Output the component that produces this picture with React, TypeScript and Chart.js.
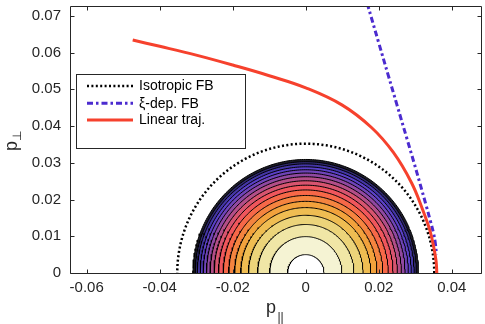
import React, { useEffect, useRef } from 'react';
import { Chart, registerables } from 'chart.js';

Chart.register(...registerables);

// ---- data ----
const ringRadii = [0.0050, 0.0099, 0.0132, 0.0157, 0.0178, 0.0195, 0.0211, 0.0226, 0.0239, 0.0251, 0.0262, 0.0272, 0.0281, 0.0289, 0.0297, 0.0303, 0.0309];
const ringColors = ['#ffffff', '#f5f3d3', '#f0e6a6', '#ecd47a', '#efbd52', '#f2a23c', '#f5843f', '#f76848', '#f0565c', '#d7546f', '#b34e88', '#9048a1', '#6f44b9', '#5a40c8', '#4436a6', '#302a70', '#1d1d2a'];
const isoRadius = 0.0352;

const linearX = [-0.0474, -0.040, -0.030, -0.020, -0.010, 0.000, 0.010, 0.018, 0.024, 0.029, 0.032, 0.034, 0.0351, 0.0357, 0.0359];
const linearY = [0.0634, 0.0617, 0.0593, 0.0566, 0.0537, 0.0504, 0.0457, 0.0396, 0.0328, 0.0245, 0.0173, 0.0116, 0.0068, 0.0032, 0.0];

const xiX = [0.0168, 0.0200, 0.0226, 0.0250, 0.0277, 0.0296, 0.0313, 0.0330, 0.0341, 0.0350, 0.0355, 0.0358];
const xiY = [0.0735, 0.0626, 0.0538, 0.0457, 0.0366, 0.0302, 0.0243, 0.0183, 0.0143, 0.0108, 0.0080, 0.0050];

const legendLabels = ['Isotropic FB', 'ξ-dep. FB', 'Linear traj.'];

const xMin = -0.0643;
const xMax = 0.0480;
const yMin = 0;
const yMax = 0.0724;
const xStep = 0.02;
const yStep = 0.01;

const FONT = "'Liberation Sans', Arial, Helvetica, sans-serif";
const AXIS_COLOR = '#262626';

function halfCircle(r: number, n = 160) {
  const pts: { x: number; y: number }[] = [];
  for (let i = 0; i <= n; i++) {
    const t = (Math.PI * i) / n;
    pts.push({ x: r * Math.cos(t), y: r * Math.sin(t) });
  }
  return pts;
}

function zip(xs: number[], ys: number[]) {
  return xs.map((x, i) => ({ x, y: ys[i] }));
}

const fmt = (v: number) => String(Math.round(v * 1000) / 1000);

const framePlugin = {
  id: 'frame',
  afterDraw(chart: any) {
    const { ctx, chartArea: a, scales } = chart;
    const xs = scales.x;
    const ys = scales.y;
    ctx.save();

    // legend
    const lx0 = 76.5, ly0 = 74.5, lx1 = 245.5, ly1 = 148.5;
    ctx.fillStyle = '#ffffff';
    ctx.fillRect(lx0, ly0, lx1 - lx0, ly1 - ly0);
    ctx.strokeStyle = AXIS_COLOR;
    ctx.lineWidth = 1;
    ctx.setLineDash([]);
    ctx.strokeRect(lx0, ly0, lx1 - lx0, ly1 - ly0);
    const rows = [86, 103.3, 120];
    legendLabels.forEach((label, i) => {
      const ds = chart.data.datasets[i];
      ctx.save();
      ctx.strokeStyle = ds.borderColor;
      ctx.lineWidth = ds.borderWidth;
      ctx.setLineDash(ds.borderDash || []);
      ctx.beginPath();
      ctx.moveTo(87, rows[i]);
      ctx.lineTo(133, rows[i]);
      ctx.stroke();
      ctx.restore();
      ctx.fillStyle = '#000000';
      ctx.font = `14px ${FONT}`;
      ctx.textBaseline = 'middle';
      ctx.textAlign = 'left';
      ctx.fillText(label, 139, rows[i] + 0.5);
    });

    // frame box
    ctx.strokeStyle = AXIS_COLOR;
    ctx.lineWidth = 1;
    ctx.setLineDash([]);
    const L = a.left - 0.5, R = a.right + 0.5, T = a.top - 0.5, B = a.bottom + 0.5;
    ctx.beginPath();
    ctx.rect(L, T, R - L, B - T);
    // ticks, inward on all four sides
    xs.ticks.forEach((t: any) => {
      const px = Math.round(xs.getPixelForValue(t.value)) + 0.5;
      ctx.moveTo(px, B); ctx.lineTo(px, B - 4);
      ctx.moveTo(px, T); ctx.lineTo(px, T + 4);
    });
    ys.ticks.forEach((t: any) => {
      const py = Math.round(ys.getPixelForValue(t.value)) + 0.5;
      ctx.moveTo(L, py); ctx.lineTo(L + 4, py);
      ctx.moveTo(R, py); ctx.lineTo(R - 4, py);
    });
    ctx.stroke();

    // axis titles with subscripts
    ctx.fillStyle = AXIS_COLOR;
    ctx.textAlign = 'left';
    ctx.textBaseline = 'alphabetic';
    ctx.font = `18px ${FONT}`;
    ctx.fillText('p', 266, 312.5);
    ctx.font = `12px ${FONT}`;
    ctx.fillText('||', 277.5, 320.8);

    ctx.save();
    ctx.translate(17, 151);
    ctx.rotate(-Math.PI / 2);
    ctx.font = `18px ${FONT}`;
    ctx.fillText('p', 0, 0);
    ctx.font = `12px ${FONT}`;
    ctx.fillText('\u22A5', 10.5, 3.5);
    ctx.restore();

    ctx.restore();
  },
};

export default function App() {
  const ref = useRef<HTMLCanvasElement>(null);

  useEffect(() => {
    const iso = {
      label: legendLabels[0],
      data: halfCircle(isoRadius),
      showLine: true,
      borderColor: '#000000',
      borderWidth: 2.5,
      borderDash: [2, 2.4],
      pointRadius: 0,
      tension: 0,
      fill: false,
      order: 2,
    };
    const xi = {
      label: legendLabels[1],
      data: zip(xiX, xiY),
      showLine: true,
      borderColor: '#4b2bcf',
      borderWidth: 3,
      borderDash: [6, 3, 2.5, 3],
      pointRadius: 0,
      tension: 0.4,
      fill: false,
      order: 1,
    };
    const lin = {
      label: legendLabels[2],
      data: zip(linearX, linearY),
      showLine: true,
      borderColor: '#f6412d',
      borderWidth: 3,
      pointRadius: 0,
      tension: 0.4,
      fill: false,
      order: 0,
    };
    const rings = ringRadii.map((r, i) => ({
      label: 'ring' + i,
      data: halfCircle(r),
      showLine: true,
      borderColor: '#000000',
      borderWidth: 1,
      backgroundColor: ringColors[i],
      pointRadius: 0,
      tension: 0,
      fill: 'origin',
      order: 10 + i,
    }));

    const chart = new Chart(ref.current as HTMLCanvasElement, {
      type: 'scatter',
      data: { datasets: [iso, xi, lin, ...rings] as any },
      options: {
        animation: false,
        responsive: false,
        devicePixelRatio: 1,
        events: [],
        layout: { padding: { left: 0, right: 4, top: 7, bottom: 0 } },
        plugins: {
          legend: { display: false },
          tooltip: { enabled: false },
        },
        scales: {
          x: {
            type: 'linear',
            min: xMin,
            max: xMax,
            grid: { display: false, drawTicks: false },
            border: { display: false },
            ticks: {
              stepSize: xStep,
              includeBounds: false,
              padding: 6,
              maxRotation: 0,
              autoSkip: false,
              color: AXIS_COLOR,
              font: { family: FONT, size: 15 },
              callback: (v: any) => fmt(Number(v)),
            },
            afterFit(s: any) {
              s.height = 51;
              s.paddingLeft = 0;
              s.paddingRight = 0;
            },
          },
          y: {
            type: 'linear',
            min: yMin,
            max: yMax,
            grid: { display: false, drawTicks: false },
            border: { display: false },
            ticks: {
              stepSize: yStep,
              includeBounds: false,
              padding: 10,
              autoSkip: false,
              color: AXIS_COLOR,
              font: { family: FONT, size: 15 },
              callback: (v: any) => fmt(Number(v)),
            },
            afterFit(s: any) {
              s.width = 71;
              s.paddingTop = 0;
              s.paddingBottom = 0;
            },
          },
        },
      } as any,
      plugins: [framePlugin],
    });
    return () => chart.destroy();
  }, []);

  return (
    <div style={{ position: 'absolute', left: 0, top: 0, width: 485, height: 324, background: '#ffffff' }}>
      <canvas ref={ref} width={485} height={324} style={{ display: 'block' }} />
    </div>
  );
}
